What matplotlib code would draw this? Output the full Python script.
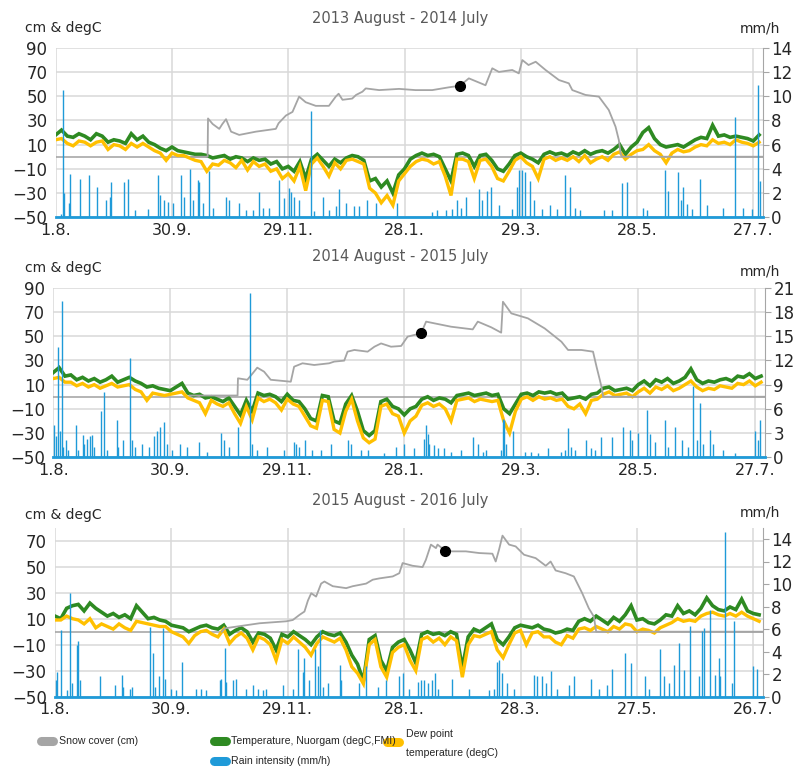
import numpy as np
import matplotlib
matplotlib.use("Agg")
import matplotlib.pyplot as plt
from matplotlib.lines import Line2D

plt.rcParams['font.family'] = ['DejaVu Sans']

GREEN = '#2E8A22'
YELLOW = '#FFC000'
GRAY = '#A5A5A5'
BLUE = '#1F9AD8'
GRID = '#D9D9D9'
TXT = '#262626'

titles = ["2013 August - 2014 July", "2014 August - 2015 July", "2015 August - 2016 July"]
tick_days = [0, 60, 120, 180, 240, 300, 360]
xlabels_1 = ['1.8.', '30.9.', '29.11.', '28.1.', '29.3.', '28.5.', '27.7.']
xlabels_2 = ['1.8.', '30.9.', '29.11.', '28.1.', '29.3.', '28.5.', '27.7.']
xlabels_3 = ['1.8.', '30.9.', '29.11.', '28.1.', '28.3.', '27.5.', '26.7.']

# days since 1 August, every 3rd day
sample_days = np.arange(0, 364, 3)

temp_1 = [18, 22, 17, 16, 19, 17, 14, 19, 17, 12,
          14, 13, 11, 19, 14, 17, 12, 10, 7, 5,
          8, 5, 4, 3, 2, 2, 1, -1, 0, 1,
          -2, 0, -1, -4, -1, -3, -2, -6, -4, -10,
          -8, -12, -4, -18, -2, 2, -3, -8, -2, -5,
          -1, 1, 0, -3, -20, -18, -25, -20, -30, -15,
          -10, -2, 1, 3, 1, 2, 0, -10, -20, 2,
          3, 1, -8, 1, 2, -3, -10, -12, -6, 1,
          3, 0, -2, -5, 2, 4, 2, 3, 1, 4,
          2, 5, 2, 4, 5, 3, 6, 10, 2, 8,
          12, 20, 24, 15, 10, 8, 9, 10, 8, 11,
          14, 16, 15, 26, 17, 18, 16, 17, 16, 15,
          13, 18]
dew_1 = [14, 15, 11, 9, 13, 12, 9, 12, 13, 6,
         10, 9, 6, 11, 8, 11, 8, 5, 3, -3,
         3, 1, 1, -1, -3, -4, -12, -6, -7, -3,
         -5, -9, -3, -11, -4, -8, -6, -12, -10, -18,
         -14, -20, -8, -28, -6, -1, -8, -16, -5, -10,
         -3, -2, -4, -6, -26, -30, -38, -32, -40, -20,
         -14, -8, -4, -2, -3, -6, -4, -16, -32, -2,
         -2, -4, -18, -3, -2, -8, -18, -20, -12, -3,
         0, -5, -8, -18, -2, 0, -3, -1, -3, 0,
         -4, 1, -5, -2, 0, -3, 2, 4, -2, 2,
         5, 6, 10, 5, 2, -5, 3, 6, 4, 5,
         8, 10, 9, 14, 11, 12, 10, 14, 12, 11,
         9, 12]

temp_2 = [20, 24, 17, 18, 14, 16, 13, 15, 12, 14,
          17, 12, 14, 16, 13, 11, 8, 9, 7, 6,
          5, 8, 11, 3, 1, 2, -1, 0, -2, -4,
          -1, -8, -15, -3, -12, 3, 1, 2, 0, -4,
          2, -3, -4, -10, -18, -20, 1, 0, -20, -22,
          -6, 1, -12, -28, -32, -28, -4, -2, -8, -10,
          -15, -10, -8, -2, 0, -3, -1, -2, -5, 1,
          2, 3, 1, 2, 3, 1, 2, -10, -14, -6,
          2, 3, 1, 4, 3, 4, 2, 3, -2, -1,
          0, -2, 2, 3, 7, 8, 5, 6, 7, 5,
          10, 13, 9, 14, 12, 15, 11, 13, 16, 23,
          14, 11, 13, 12, 14, 15, 13, 17, 16, 19,
          15, 17]
dew_2 = [15, 16, 12, 12, 9, 11, 8, 10, 7, 9,
         11, 8, 9, 10, 6, 4, -3, 3, 2, 1,
         2, 3, 4, -1, -3, -5, -14, -3, -6, -8,
         -5, -14, -22, -8, -19, -1, -4, -2, -5, -11,
         -2, -6, -8, -16, -24, -26, -3, -4, -27, -30,
         -12, -2, -20, -34, -38, -35, -8, -6, -14, -16,
         -30, -20, -16, -7, -5, -8, -6, -10, -20, -3,
         -2, -1, -4, -2, -3, -4, -3, -20, -30, -12,
         -2, 0, -3, 0, -2, -1, -3, -2, -8, -10,
         -6, -14, -3, -2, 2, 4, 1, 2, 3, 0,
         4, 7, 3, 8, 6, 9, 5, 7, 10, 13,
         8, 5, 7, 6, 9, 8, 7, 11, 10, 13,
         9, 12]

temp_3 = [12, 10, 18, 20, 21, 16, 22, 18, 15, 12,
          14, 11, 13, 10, 20, 15, 10, 11, 9, 8,
          5, 4, 3, 0, 2, 4, 5, 3, 2, 5,
          -2, 1, 3, 0, -8, -1, -2, -5, -14, -2,
          -4, 0, -3, -6, -10, -4, 0, -2, -3, -1,
          -8, -18, -25, -38, -6, -3, -22, -30, -12, -8,
          -6, -14, -24, -2, 0, -2, -1, -3, 0, -2,
          -28, -4, 2, 0, 3, 6, -6, -10, -4, 3,
          5, 4, 3, 5, 2, 1, -1, 0, 2, 1,
          8, 10, 8, 12, 9, 6, 11, 8, 13, 20,
          9, 10, 7, 6, 9, 13, 12, 20, 14, 16,
          13, 18, 26, 20, 17, 16, 19, 17, 25, 16,
          14, 13]
dew_3 = [9, 9, 12, 10, 9, 6, 10, 3, 6, 4,
         2, 6, 3, 1, 8, 7, 6, 5, 4, 4,
         0, -2, -4, -9, -3, 0, 1, -2, -4, 2,
         -9, -4, -1, -5, -14, -4, -6, -10, -22, -6,
         -9, -4, -8, -12, -18, -9, -4, -6, -8, -5,
         -14, -27, -32, -40, -10, -6, -27, -35, -16, -12,
         -10, -22, -30, -6, -4, -8, -5, -10, -4, -7,
         -35, -10, -3, -4, -2, 0, -14, -20, -10, -1,
         1, -10, -1, 0, -4, -4, -8, -10, -3, -5,
         2, 3, 1, 4, 2, 0, 4, 2, 6, 5,
         0, 2, 1, -1, 3, 5, 7, 10, 8, 9,
         8, 12, 14, 15, 13, 12, 14, 12, 15, 12,
         10, 8]

# snow cover (day, cm)
snow_1 = [(70, 0), (78.4, 0), (78.6, 31.6), (81, 27), (84.4, 23), (86, 27), (87.9, 31),
          (90.5, 20.7), (94.7, 18), (103.3, 20.7), (113.6, 23), (115, 27.6), (118.8, 34),
          (122.2, 37), (125.6, 49.6), (129, 45), (134.2, 42), (141, 42), (144.5, 49.6),
          (146, 52), (148, 47), (153, 48), (155, 51), (158.3, 53.7), (160, 56.4),
          (166.9, 55), (177.2, 56), (185.7, 55), (194.3, 55), (202.9, 57.3), (208.6, 58.6),
          (213.2, 64.7), (221.8, 59), (225.3, 73), (228.7, 70), (235.6, 71.6), (239, 68.8),
          (240.8, 79.8), (244, 75.7), (247.7, 78.4), (252.8, 71.6), (259.7, 63.3),
          (264.8, 60.6), (266.6, 55), (273.4, 51), (280.3, 49.6), (285.4, 38.6),
          (288.9, 24.8), (290.6, 13.8), (291.5, 2.8), (292.3, 0), (365, 0)]
snow_2 = [(70, 1), (94.5, 1), (94.7, 15.2), (99.5, 14), (102.1, 19), (104.6, 24), (108.1, 20.7),
          (111.5, 14), (121.8, 12.4), (123.5, 24.8), (127.8, 27.6), (133.8, 26.2), (141.5, 27.6),
          (144.1, 29), (149.2, 29.8), (150.9, 37.2), (154.4, 38.6), (161.2, 37.2), (164.7, 41.3),
          (168.1, 44), (173.2, 41.3), (178.4, 41.9), (181.7, 49.6), (185.2, 51), (188.6, 52.3),
          (191.2, 62), (195.4, 60.6), (204, 57.8), (215.1, 55.6), (217.7, 62), (224.6, 57.3),
          (229.7, 52.9), (230.6, 78.4), (234.9, 68.8), (243.4, 64.7), (252, 56.4), (260.6, 45.4),
          (264, 38.6), (270.8, 38.6), (276.8, 37.2), (278.6, 24.8), (280.3, 13.8), (281.1, 8.3),
          (282, 0), (365, 0)]
snow_3 = [(86, 0), (87.5, 2.6), (105.5, 6.5), (119.2, 8), (122.6, 9), (126.1, 13), (128.6, 15.5),
          (130.4, 24), (132.1, 29.6), (134.6, 27), (137.2, 37), (138.9, 38.6), (143.2, 35),
          (150.1, 33.5), (153.5, 35), (160.4, 37), (163.8, 40), (167.2, 41), (174.1, 42.5),
          (177.5, 45), (179.2, 52.8), (184.4, 50.7), (189.5, 49.7), (191.2, 55.3), (193.8, 67),
          (196.4, 64.3), (197.2, 67), (201.2, 62.3), (204.9, 61.8), (211.8, 61.8), (218.7, 60.5),
          (225.5, 60), (227.2, 54), (228.9, 63), (230.7, 73.9), (234.1, 67), (237.5, 65.6),
          (241.8, 59.2), (247.8, 56.6), (253, 50.7), (255.5, 54), (258.1, 47.1), (263.2, 45),
          (267.5, 42.5), (271.8, 29.6), (275.2, 18), (277.8, 11.6), (279, 0), (365, 0)]

# marked snow points (day, cm)
dot_1 = (208.6, 58.6)
dot_2 = (188.6, 52.3)
dot_3 = (201.2, 62.3)

# rain intensity (day, mm/h)
rain_1 = [(2.9, 0.3), (3.8, 10.5), (4.1, 2.0), (6.9, 1.2), (7.6, 3.6), (12.4, 3.2), (17.2, 3.5),
          (21.3, 2.5), (26.1, 1.4), (27.8, 1.7), (28.7, 2.9), (35.5, 2.9), (37.2, 3.2), (40.9, 0.6),
          (47.5, 0.7), (52.7, 3.5), (53.6, 1.8), (56.1, 1.4), (57.8, 1.3), (60.4, 1.2), (64.7, 3.5),
          (66.4, 1.7), (69.3, 4.0), (70.7, 1.4), (73.3, 3.1), (74.2, 2.9), (75.9, 1.2), (79.0, 3.8),
          (81.0, 0.8), (87.9, 1.7), (89.6, 1.4), (94.7, 1.2), (98.2, 0.6), (101.6, 0.6), (105.0, 2.1),
          (106.8, 0.8), (110.2, 0.8), (115.3, 3.1), (117.9, 1.6), (120.5, 2.4), (121.4, 2.1),
          (123.1, 1.7), (125.6, 1.4), (131.7, 8.8), (133.4, 0.5), (137.7, 1.7), (141.1, 0.6),
          (144.5, 0.9), (146.2, 2.3), (149.7, 1.2), (154.0, 0.9), (156.5, 0.9), (160.8, 1.4),
          (165.1, 1.2), (176.3, 1.2), (194.3, 0.4), (196.9, 0.6), (201.2, 0.6), (204.6, 0.7),
          (207.2, 1.4), (208.9, 0.8), (211.5, 1.7), (218.3, 2.3), (220.0, 1.4), (222.6, 2.2),
          (224.4, 2.5), (228.6, 1.0), (235.5, 0.7), (238.1, 2.5), (238.9, 3.9), (240.6, 3.9),
          (242.4, 3.7), (244.9, 3.0), (246.7, 1.4), (251.0, 0.7), (255.2, 1.0), (258.7, 0.7),
          (263.0, 3.5), (265.6, 2.5), (268.1, 0.8), (270.7, 0.6), (282.7, 0.6), (287.0, 0.6),
          (292.2, 2.8), (294.7, 2.9), (303.3, 0.8), (305.0, 0.6), (314.5, 3.9), (316.2, 2.2),
          (321.3, 3.7), (322.7, 1.4), (323.9, 2.5), (325.6, 1.1), (328.2, 0.7), (332.5, 3.2),
          (335.9, 1.0), (344.5, 0.8), (350.5, 8.3), (354.8, 0.8), (359.1, 0.7), (362.5, 10.9),
          (363.4, 3.0)]
rain_2 = [(0.5, 4.0), (1.4, 2.6), (2.6, 13.7), (3.4, 3.2), (4.3, 19.3), (5.1, 1.3), (6.5, 2.1),
          (7.7, 0.9), (11.7, 4.0), (12.9, 0.9), (15.1, 2.8), (16.0, 1.7), (17.5, 2.3), (18.9, 2.6),
          (19.7, 2.8), (20.9, 1.3), (24.5, 5.7), (26.1, 8.1), (27.4, 0.9), (32.6, 4.6), (33.4, 1.3),
          (35.7, 2.1), (39.5, 12.3), (40.3, 2.1), (42.0, 1.3), (45.5, 1.7), (48.9, 1.3), (51.5, 2.6),
          (53.2, 3.2), (54.9, 3.8), (56.6, 4.4), (58.3, 1.7), (60.9, 0.9), (65.2, 1.7), (68.6, 1.3),
          (74.6, 1.9), (78.9, 0.7), (85.8, 3.0), (87.5, 2.1), (90.1, 1.3), (94.7, 3.8), (100.9, 20.4),
          (102.1, 1.7), (104.6, 0.9), (109.8, 1.3), (118.4, 0.9), (123.5, 1.9), (124.4, 1.7),
          (126.1, 1.3), (129.0, 2.1), (132.9, 0.9), (137.2, 0.9), (142.4, 1.7), (150.9, 2.1),
          (152.7, 1.7), (157.8, 0.9), (161.2, 0.9), (169.8, 0.5), (175.8, 1.3), (180.0, 1.7),
          (185.2, 1.1), (190.3, 2.3), (191.2, 4.0), (192.0, 2.9), (192.9, 1.7), (195.4, 1.5),
          (197.2, 1.1), (200.6, 1.1), (204.0, 0.7), (209.1, 0.9), (215.1, 2.5), (217.7, 1.7),
          (220.3, 0.7), (222.0, 0.9), (229.7, 0.9), (230.6, 4.8), (231.4, 4.6), (232.3, 1.7),
          (235.7, 3.2), (241.7, 0.7), (245.1, 0.7), (248.6, 0.5), (253.7, 1.1), (260.6, 0.7),
          (262.3, 0.9), (264.0, 3.6), (265.7, 1.3), (267.4, 0.9), (273.4, 2.1), (276.0, 1.1),
          (277.7, 0.9), (281.1, 2.5), (286.3, 2.5), (292.3, 3.8), (295.7, 3.4), (296.6, 2.1),
          (300.0, 3.0), (304.3, 5.9), (306.0, 2.9), (308.5, 1.9), (313.7, 4.6), (315.4, 1.3),
          (318.8, 3.8), (322.3, 2.1), (325.7, 1.3), (328.3, 8.8), (330.0, 2.1), (331.7, 6.7),
          (333.4, 1.7), (336.8, 3.4), (338.5, 1.7), (343.7, 0.9), (349.7, 0.5), (360.0, 3.2),
          (361.3, 2.1), (362.5, 4.6)]
rain_3 = [(0.5, 1.5), (1.2, 2.2), (3.1, 5.9), (6.0, 0.6), (7.7, 9.2), (8.6, 1.2), (11.1, 4.6),
          (12.0, 4.9), (12.9, 1.5), (23.2, 1.8), (30.9, 1.0), (34.3, 1.9), (35.2, 0.9), (38.6, 0.7),
          (39.5, 0.9), (48.9, 6.2), (50.6, 3.9), (51.5, 0.9), (53.7, 1.8), (55.7, 6.1), (56.6, 1.6),
          (60.0, 0.7), (62.6, 0.6), (65.7, 3.1), (72.9, 0.7), (75.5, 0.7), (78.0, 0.6), (84.9, 1.5),
          (85.8, 1.6), (87.5, 4.3), (88.3, 1.3), (91.8, 1.5), (93.5, 1.6), (98.6, 0.7), (102.1, 1.0),
          (104.6, 0.7), (107.2, 0.6), (108.9, 0.7), (117.5, 1.0), (122.6, 0.7), (125.2, 4.2),
          (127.8, 2.2), (128.6, 3.4), (131.2, 1.5), (133.8, 4.2), (135.5, 2.7), (136.4, 5.9),
          (138.1, 0.9), (140.7, 1.2), (146.7, 2.8), (147.5, 1.5), (156.9, 1.2), (160.4, 2.7),
          (166.4, 0.9), (170.7, 1.5), (177.5, 1.8), (179.2, 2.1), (182.6, 0.7), (186.9, 1.3),
          (188.6, 1.5), (190.4, 1.5), (192.1, 1.2), (194.6, 1.5), (196.0, 2.1), (197.7, 0.7),
          (204.9, 1.6), (213.5, 0.7), (223.8, 0.6), (226.4, 0.7), (228.1, 3.1), (228.9, 3.3),
          (230.7, 2.1), (233.2, 1.2), (236.7, 0.7), (247.0, 1.9), (248.7, 1.8), (251.2, 1.8),
          (253.0, 1.2), (255.5, 2.3), (258.9, 0.7), (264.9, 1.0), (267.5, 1.8), (276.1, 1.6),
          (280.4, 0.7), (284.7, 1.0), (287.2, 2.5), (294.1, 3.9), (296.7, 3.0), (304.4, 1.8),
          (306.1, 0.7), (312.1, 4.2), (313.8, 1.8), (316.4, 1.2), (319.0, 2.8), (321.5, 4.8),
          (324.1, 2.4), (327.5, 6.3), (331.8, 1.8), (333.5, 5.8), (334.4, 6.1), (337.8, 7.7),
          (340.4, 1.9), (342.1, 3.4), (343.0, 1.8), (345.2, 14.6), (349.0, 1.2), (349.8, 6.7),
          (360.1, 2.7), (361.8, 2.5)]

W, H = 797, 772
fig = plt.figure(figsize=(W / 100, H / 100), dpi=100)


def px(x0, y_top, x1, y_bot):
    return [x0 / W, 1 - y_bot / H, (x1 - x0) / W, (y_bot - y_top) / H]


panels = [
    dict(rect=px(55.7, 47.7, 763, 217.3), title=titles[0], xl=xlabels_1, t=temp_1, d=dew_1,
         snow=snow_1, dot=dot_1, rain=rain_1, ylim=(-50, 90), yt=[-50, -30, -10, 10, 30, 50, 70, 90],
         rlim=(0, 14), rt=list(range(0, 15, 2)), ty=18, uy=28, rly=28),
    dict(rect=px(53.3, 287.7, 765, 457.3), title=titles[1], xl=xlabels_2, t=temp_2, d=dew_2,
         snow=snow_2, dot=dot_2, rain=rain_2, ylim=(-50, 90), yt=[-50, -30, -10, 10, 30, 50, 70, 90],
         rlim=(0, 21), rt=list(range(0, 22, 3)), ty=257, uy=268, rly=272),
    dict(rect=px(55, 527.7, 763, 696.7), title=titles[2], xl=xlabels_3, t=temp_3, d=dew_3,
         snow=snow_3, dot=dot_3, rain=rain_3, ylim=(-50, 80), yt=[-50, -30, -10, 10, 30, 50, 70],
         rlim=(0, 15), rt=list(range(0, 15, 2)), ty=501, uy=515, rly=513),
]

for p in panels:
    ax = fig.add_axes(p['rect'])
    ax.set_xlim(0, 365)
    ax.set_ylim(*p['ylim'])
    ax.set_yticks(p['yt'])
    ax.set_yticklabels([str(v).replace('-', '\u2212') for v in p['yt']])
    ax.set_xticks(tick_days)
    ax.set_xticklabels(p['xl'])
    ax.grid(True, color=GRID, lw=1.1)
    ax.set_axisbelow(True)
    for s in ax.spines.values():
        s.set_visible(False)
    ax.tick_params(axis='y', length=0, labelsize=12, colors=TXT, pad=6)
    ax.tick_params(axis='x', length=0, labelsize=11.5, colors=TXT, pad=4)
    ax.axhline(0, color='#A0A0A0', lw=1.1, zorder=1.5)
    ax.plot(sample_days, p['t'], color=GREEN, lw=2.6, zorder=2, solid_joinstyle='miter')
    ax.plot(sample_days, p['d'], color=YELLOW, lw=2.4, zorder=3, solid_joinstyle='miter')
    sd, sv = zip(*p['snow'])
    ax.plot(sd, sv, color=GRAY, lw=1.3, zorder=4)
    ax.plot([p['dot'][0]], [p['dot'][1]], 'o', color='black', ms=7, zorder=5)

    ax2 = ax.twinx()
    ax2.set_xlim(0, 365)
    ax2.set_ylim(*p['rlim'])
    ax2.set_yticks(p['rt'])
    rd, rv = zip(*p['rain'])
    ax2.vlines(rd, 0, rv, color=BLUE, lw=1.0, zorder=3)
    ax2.plot([0, 365], [0, 0], color=BLUE, lw=2.0, clip_on=False, zorder=3)
    for k, s in ax2.spines.items():
        s.set_visible(k == 'right')
    ax2.spines['right'].set_color('#A6A6A6')
    ax2.tick_params(axis='y', direction='out', length=4, color='#A6A6A6',
                    labelsize=12, labelcolor=TXT, pad=2)

    fig.text(400 / W, 1 - p['ty'] / H, p['title'], ha='center', va='center',
             fontsize=10.5, color='#595959')
    fig.text(25 / W, 1 - p['uy'] / H, 'cm & degC', ha='left', va='center',
             fontsize=10, color=TXT)
    fig.text(760 / W, 1 - p['rly'] / H, 'mm/h', ha='center', va='center',
             fontsize=10, color=TXT)

# legend
leg_font = dict(fontsize=7.6, color=TXT, family=['Liberation Sans'])


def leg_patch(x0, x1, y, color):
    fig.add_artist(Line2D([(x0 + 4) / W, (x1 - 4) / W], [1 - y / H, 1 - y / H],
                          transform=fig.transFigure, lw=6.5, color=color,
                          solid_capstyle='round'))


leg_patch(37, 57, 741, GRAY)
fig.text(59 / W, 1 - 741 / H, 'Snow cover (cm)', va='center', **leg_font)
leg_patch(210, 230, 741, GREEN)
fig.text(231 / W, 1 - 741 / H, 'Temperature, Nuorgam (degC,FMI)', va='center', **leg_font)
leg_patch(383, 403, 742, YELLOW)
fig.text(406 / W, 1 - 734 / H, 'Dew point', va='center', **leg_font)
fig.text(406 / W, 1 - 753 / H, 'temperature (degC)', va='center', **leg_font)
leg_patch(210, 230, 761, BLUE)
fig.text(231 / W, 1 - 761 / H, 'Rain intensity (mm/h)', va='center', **leg_font)

fig.savefig('out.png', dpi=100)
